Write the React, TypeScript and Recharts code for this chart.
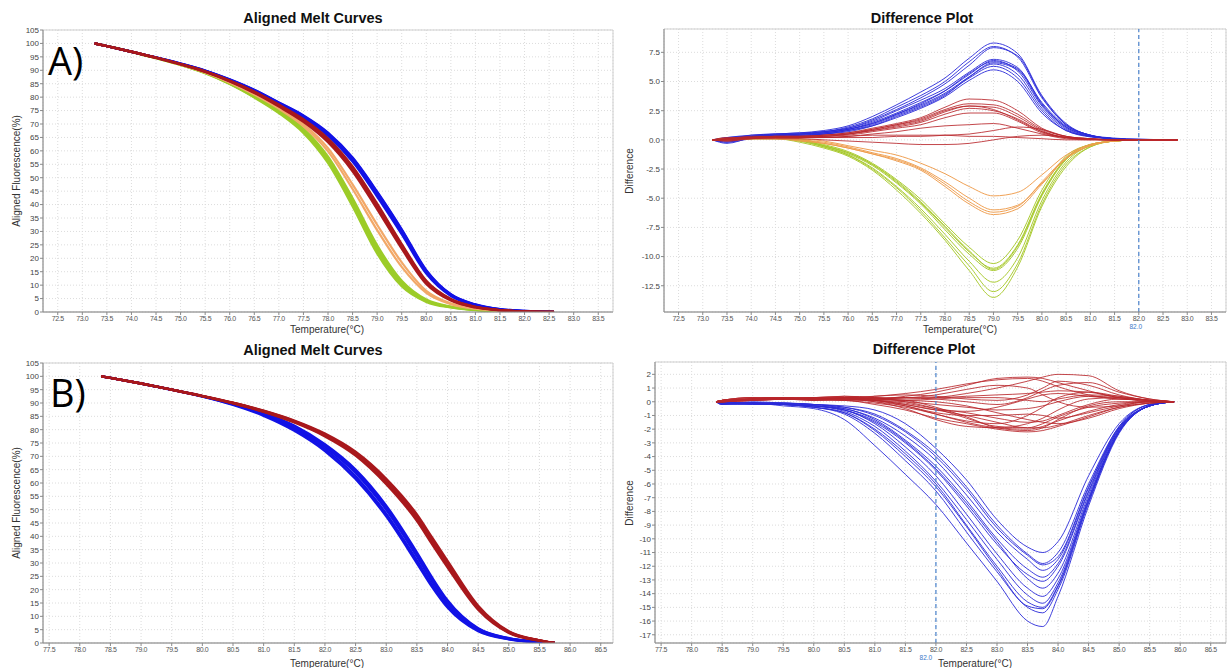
import React from 'react';
import { LineChart, Line, XAxis, YAxis, CartesianGrid, ReferenceLine, ReferenceArea } from 'recharts';

// ---------- tick labels ----------
const X_TICKS_A = [72.5, 73.0, 73.5, 74.0, 74.5, 75.0, 75.5, 76.0, 76.5, 77.0, 77.5, 78.0, 78.5, 79.0, 79.5, 80.0, 80.5, 81.0, 81.5, 82.0, 82.5, 83.0, 83.5];
const X_TICKS_B = [77.5, 78.0, 78.5, 79.0, 79.5, 80.0, 80.5, 81.0, 81.5, 82.0, 82.5, 83.0, 83.5, 84.0, 84.5, 85.0, 85.5, 86.0, 86.5];
const Y_TICKS_MELT = [0, 5, 10, 15, 20, 25, 30, 35, 40, 45, 50, 55, 60, 65, 70, 75, 80, 85, 90, 95, 100, 105];
const Y_TICKS_DIFF_A = [-12.5, -10, -7.5, -5, -2.5, 0, 2.5, 5, 7.5];
const Y_TICKS_DIFF_B = [-17, -16, -15, -14, -13, -12, -11, -10, -9, -8, -7, -6, -5, -4, -3, -2, -1, 0, 1, 2];

// ---------- A) aligned melt curves ----------
const TEMP_A_MELT = [73.25, 73.5, 74.0, 74.5, 75.0, 75.5, 76.0, 76.5, 77.0, 77.5, 78.0, 78.5, 79.0, 79.5, 80.0, 80.5, 81.0, 81.5, 82.0, 82.6];
const MELT_A_BLUE = [
  [100, 99.0, 96.9, 94.8, 92.5, 89.9, 86.6, 82.7, 78.0, 73.2, 66.8, 57.5, 44.8, 30.8, 15.6, 6.6, 2.8, 1.0, 0.4, 0],
  [100, 99.0, 96.9, 94.7, 92.4, 89.8, 86.4, 82.4, 77.7, 72.8, 66.2, 56.8, 44.0, 30.0, 15.0, 6.3, 2.6, 0.9, 0.3, 0],
  [100, 99.0, 96.9, 94.7, 92.4, 89.7, 86.3, 82.2, 77.4, 72.4, 65.6, 56.0, 43.0, 29.0, 14.3, 6.0, 2.5, 0.9, 0.3, 0],
  [100, 99.0, 96.9, 94.8, 92.5, 89.9, 86.5, 82.6, 77.9, 73.0, 66.5, 57.2, 44.5, 30.5, 15.3, 6.5, 2.7, 1.0, 0.4, 0],
];
const MELT_A_RED = [
  [100, 99.0, 96.9, 94.7, 92.3, 89.6, 86.2, 82.1, 77.2, 71.8, 64.6, 54.2, 40.3, 25.3, 11.6, 4.8, 1.9, 0.7, 0.2, 0],
  [100, 99.0, 96.9, 94.7, 92.3, 89.5, 86.0, 81.8, 76.8, 71.2, 63.8, 53.2, 39.2, 24.3, 11.0, 4.5, 1.8, 0.7, 0.2, 0],
  [100, 99.0, 96.9, 94.6, 92.2, 89.4, 85.9, 81.6, 76.5, 70.8, 63.2, 52.4, 38.3, 23.6, 10.5, 4.3, 1.7, 0.6, 0.2, 0],
  [100, 99.0, 96.9, 94.7, 92.3, 89.6, 86.1, 82.0, 77.0, 71.5, 64.2, 53.8, 39.8, 24.8, 11.3, 4.7, 1.9, 0.7, 0.2, 0],
];
const MELT_A_ORANGE = [
  [100, 99.0, 96.9, 94.6, 92.2, 89.3, 85.6, 81.3, 76.2, 70.0, 61.0, 47.5, 32.5, 18.5, 7.9, 3.2, 1.3, 0.5, 0.1, 0],
  [100, 99.0, 96.9, 94.6, 92.1, 89.2, 85.4, 81.0, 75.7, 69.2, 59.8, 45.8, 30.5, 16.8, 7.1, 2.9, 1.2, 0.5, 0.1, 0],
];
const MELT_A_GREEN = [
  [100, 99.0, 96.9, 94.6, 92.1, 89.1, 85.1, 80.4, 74.8, 67.8, 57.2, 41.5, 24.0, 11.0, 4.3, 1.9, 0.8, 0.3, 0.1, 0],
  [100, 99.0, 96.9, 94.5, 92.0, 89.0, 85.0, 80.1, 74.4, 67.2, 56.3, 40.4, 22.8, 10.2, 4.0, 1.8, 0.8, 0.3, 0.1, 0],
  [100, 99.0, 96.9, 94.5, 92.0, 88.9, 84.9, 79.9, 74.1, 66.7, 55.5, 39.4, 21.8, 9.6, 3.8, 1.7, 0.7, 0.3, 0.1, 0],
  [100, 99.0, 96.9, 94.6, 92.1, 89.1, 85.2, 80.6, 75.1, 68.3, 57.8, 42.3, 24.8, 11.6, 4.6, 2.0, 0.9, 0.3, 0.1, 0],
];

// ---------- A) difference plot ----------
const TEMP_A_DIFF = [73.2, 73.5, 74.0, 74.5, 75.0, 75.5, 76.0, 76.5, 77.0, 77.5, 78.0, 78.5, 79.0, 79.5, 80.0, 80.5, 81.0, 81.5, 82.0, 82.8];
const DIFF_A_BLUE = [
  [0, -0.2, 0.3, 0.5, 0.6, 0.8, 1.2, 2.0, 3.0, 4.1, 5.3, 7.0, 8.3, 7.4, 3.8, 1.4, 0.4, 0.15, 0.05, 0],
  [0, 0.2, 0.4, 0.5, 0.6, 0.7, 1.1, 1.8, 2.8, 3.8, 5.0, 6.7, 8.0, 7.1, 3.6, 1.3, 0.4, 0.1, 0.05, 0],
  [0, -0.1, 0.3, 0.4, 0.5, 0.7, 1.0, 1.6, 2.5, 3.4, 4.4, 5.8, 6.9, 6.2, 3.1, 1.1, 0.35, 0.1, 0, 0],
  [0, 0.1, 0.2, 0.4, 0.5, 0.6, 0.9, 1.5, 2.3, 3.2, 4.2, 5.6, 6.8, 5.9, 2.9, 1.0, 0.3, 0.1, 0, 0],
  [0, -0.3, 0.2, 0.4, 0.4, 0.6, 0.9, 1.4, 2.2, 3.0, 4.0, 5.4, 6.5, 5.6, 2.7, 0.9, 0.3, 0.1, 0, 0],
  [0, 0.2, 0.3, 0.3, 0.4, 0.5, 0.8, 1.3, 2.1, 2.9, 3.9, 5.3, 6.3, 5.3, 2.5, 0.8, 0.3, 0.1, 0, 0],
  [0, 0, 0.3, 0.4, 0.4, 0.5, 0.8, 1.2, 1.9, 2.7, 3.7, 5.1, 6.0, 5.0, 2.3, 0.8, 0.25, 0.1, 0, 0],
  [0, -0.2, 0.1, 0.3, 0.3, 0.5, 0.7, 1.2, 2.0, 2.8, 3.8, 5.4, 6.6, 6.0, 3.0, 1.1, 0.35, 0.1, 0, 0],
  [0, 0.1, 0.4, 0.5, 0.5, 0.7, 1.0, 1.7, 2.6, 3.6, 4.8, 6.4, 7.9, 7.2, 3.7, 1.3, 0.4, 0.1, 0.05, 0],
  [0, 0, 0.2, 0.4, 0.5, 0.6, 0.9, 1.4, 2.2, 3.1, 4.2, 5.7, 6.7, 6.1, 3.2, 1.2, 0.4, 0.1, 0, 0],
];
const DIFF_A_RED = [
  [0, 0.1, 0.3, 0.3, 0.3, 0.4, 0.6, 1.0, 1.4, 1.9, 2.8, 3.5, 3.4, 2.5, 1.0, 0.3, 0.1, 0, 0, 0],
  [0, -0.1, 0.2, 0.3, 0.3, 0.4, 0.5, 0.9, 1.3, 1.8, 2.6, 3.1, 3.0, 2.2, 0.9, 0.3, 0.1, 0, 0, 0],
  [0, 0.2, 0.2, 0.3, 0.3, 0.3, 0.5, 0.8, 1.2, 1.6, 2.4, 2.9, 2.8, 2.0, 0.8, 0.2, 0.1, 0, 0, 0],
  [0, 0, 0.2, 0.2, 0.2, 0.3, 0.5, 0.8, 1.1, 1.5, 2.2, 2.7, 2.5, 1.8, 0.7, 0.2, 0.05, 0, 0, 0],
  [0, -0.1, 0.1, 0.2, 0.2, 0.3, 0.4, 0.7, 1.0, 1.3, 1.9, 2.3, 2.3, 1.6, 0.6, 0.2, 0.05, 0, 0, 0],
  [0, 0.1, 0.2, 0.2, 0.2, 0.2, 0.3, 0.5, 0.7, 1.0, 1.2, 1.3, 1.4, 1.0, 0.5, 0.1, 0, 0, 0, 0],
  [0, 0, 0.1, 0.2, 0.2, 0.2, 0.2, 0.2, 0.3, 0.3, 0.4, 0.5, 0.8, 1.1, 0.9, 0.3, 0.1, 0, 0, 0],
  [0, 0.1, 0.1, 0.1, 0.1, 0.0, -0.1, -0.2, -0.3, -0.4, -0.4, -0.3, 0.0, 0.3, 0.4, 0.2, 0.05, 0, 0, 0],
  [0, 0, 0.2, 0.2, 0.2, 0.2, 0.3, 0.4, 0.4, 0.4, 0.4, 0.3, 0.3, 0.2, 0.1, 0, 0, 0, 0, 0],
  [0, 0.1, 0.2, 0.3, 0.3, 0.4, 0.6, 0.9, 1.3, 1.7, 2.5, 2.9, 2.6, 1.7, 0.7, 0.2, 0.05, 0, 0, 0],
];
const DIFF_A_ORANGE = [
  [0, 0.1, 0.2, 0.2, 0.1, -0.1, -0.5, -0.9, -1.3, -2.0, -2.9, -4.0, -4.8, -4.5, -3.0, -1.3, -0.4, -0.1, 0, 0],
  [0, 0, 0.1, 0.1, 0.0, -0.2, -0.6, -1.1, -1.6, -2.4, -3.6, -5.0, -6.0, -5.6, -3.7, -1.6, -0.5, -0.1, 0, 0],
  [0, 0.1, 0.1, 0.1, 0.0, -0.3, -0.7, -1.2, -1.8, -2.6, -4.0, -5.5, -6.4, -5.9, -3.8, -1.6, -0.5, -0.1, 0, 0],
  [0, 0, 0.1, 0.1, -0.1, -0.3, -0.7, -1.2, -1.7, -2.5, -3.8, -5.3, -6.2, -5.7, -3.6, -1.5, -0.4, -0.1, 0, 0],
];
const DIFF_A_GREEN = [
  [0, 0.1, 0.2, 0.3, 0.1, -0.4, -1.0, -2.0, -3.4, -5.1, -7.2, -9.2, -10.6, -8.6, -4.3, -1.4, -0.4, -0.1, 0, 0],
  [0, 0, 0.2, 0.2, 0.0, -0.5, -1.1, -2.1, -3.6, -5.4, -7.5, -9.6, -11.0, -9.0, -4.6, -1.6, -0.4, -0.1, 0, 0],
  [0, 0.1, 0.1, 0.2, 0.0, -0.5, -1.2, -2.2, -3.7, -5.5, -7.7, -9.8, -11.2, -9.3, -4.8, -1.7, -0.5, -0.1, 0, 0],
  [0, 0, 0.1, 0.1, -0.1, -0.6, -1.3, -2.4, -4.0, -5.9, -8.1, -10.4, -12.2, -10.1, -5.2, -1.9, -0.5, -0.1, 0, 0],
  [0, 0.1, 0.1, 0.1, -0.1, -0.6, -1.3, -2.5, -4.1, -6.1, -8.4, -10.8, -13.0, -10.6, -5.5, -2.1, -0.6, -0.1, 0, 0],
  [0, 0, 0.1, 0.1, -0.2, -0.7, -1.4, -2.6, -4.3, -6.3, -8.6, -11.2, -13.5, -10.9, -5.7, -2.3, -0.6, -0.1, 0, 0],
  [0, 0.1, 0.2, 0.2, 0.0, -0.5, -1.1, -2.1, -3.5, -5.3, -7.4, -9.5, -11.1, -9.1, -4.7, -1.6, -0.4, -0.1, 0, 0],
];

// ---------- B) aligned melt curves ----------
const TEMP_B_MELT = [78.35, 78.5, 79.0, 79.5, 80.0, 80.5, 81.0, 81.5, 82.0, 82.5, 83.0, 83.5, 83.75, 84.0, 84.5, 85.0, 85.5, 85.75];
const MELT_B_BLUE = [
  [100, 99.4, 97.3, 95.0, 92.6, 89.8, 86.3, 81.5, 74.5, 65.0, 51.5, 34.0, 24.5, 16.0, 5.5, 1.8, 0.4, 0],
  [100, 99.4, 97.3, 95.0, 92.5, 89.6, 85.9, 80.8, 73.6, 63.8, 50.0, 32.5, 23.0, 15.0, 5.0, 1.6, 0.4, 0],
  [100, 99.4, 97.3, 95.0, 92.5, 89.5, 85.6, 80.2, 72.8, 62.5, 48.5, 31.0, 21.8, 14.0, 4.7, 1.5, 0.3, 0],
  [100, 99.4, 97.3, 94.9, 92.4, 89.3, 85.2, 79.6, 72.0, 61.5, 47.5, 30.0, 21.0, 13.3, 4.4, 1.4, 0.3, 0],
  [100, 99.4, 97.3, 95.0, 92.6, 89.7, 86.1, 81.1, 74.0, 64.3, 50.8, 33.2, 23.8, 15.5, 5.3, 1.7, 0.4, 0],
];
const MELT_B_RED = [
  [100, 99.4, 97.3, 95.0, 92.6, 90.0, 87.0, 83.2, 78.2, 71.3, 61.0, 47.5, 38.8, 30.0, 13.5, 4.2, 1.0, 0],
  [100, 99.4, 97.3, 95.0, 92.6, 90.0, 86.8, 82.9, 77.8, 70.8, 60.3, 46.7, 38.0, 29.2, 13.0, 4.0, 0.9, 0],
  [100, 99.4, 97.3, 95.0, 92.6, 89.9, 86.7, 82.7, 77.5, 70.3, 59.6, 45.8, 37.0, 28.4, 12.5, 3.8, 0.9, 0],
  [100, 99.4, 97.3, 95.0, 92.7, 90.1, 87.1, 83.4, 78.5, 71.7, 61.6, 48.2, 39.5, 30.8, 14.0, 4.4, 1.0, 0],
  [100, 99.4, 97.3, 95.0, 92.6, 90.0, 86.9, 83.0, 78.0, 71.0, 60.7, 47.0, 38.3, 29.6, 13.2, 4.1, 1.0, 0],
];

// ---------- B) difference plot ----------
const TEMP_B_DIFF = [78.4, 78.5, 79.0, 79.5, 80.0, 80.5, 81.0, 81.5, 82.0, 82.5, 83.0, 83.5, 83.75, 84.0, 84.5, 85.0, 85.5, 85.9];
const DIFF_B_BLUE = [
  [0, -0.1, -0.1, -0.3, -0.5, -1.3, -3.2, -5.3, -7.5, -10.3, -13.1, -16.0, -16.4, -14.2, -7.6, -2.3, -0.3, 0],
  [0, -0.1, -0.1, -0.2, -0.4, -0.9, -2.3, -4.3, -6.5, -9.5, -12.4, -15.0, -15.4, -13.7, -7.4, -2.2, -0.3, 0],
  [0, -0.2, -0.1, -0.2, -0.4, -0.8, -2.0, -3.8, -6.0, -9.0, -12.0, -14.6, -15.0, -13.4, -7.2, -2.2, -0.3, 0],
  [0, -0.1, -0.2, -0.2, -0.3, -0.7, -1.8, -3.6, -5.8, -8.6, -11.5, -14.1, -14.7, -13.2, -7.1, -2.1, -0.3, 0],
  [0, -0.1, -0.1, -0.2, -0.3, -0.6, -1.6, -3.3, -5.4, -8.2, -11.1, -13.6, -14.2, -12.9, -7.0, -2.1, -0.3, 0],
  [0, -0.2, -0.1, -0.1, -0.3, -0.6, -1.5, -3.0, -5.0, -7.6, -10.4, -12.6, -13.1, -12.0, -6.6, -2.0, -0.3, 0],
  [0, -0.1, -0.2, -0.2, -0.3, -0.5, -1.3, -2.8, -4.7, -7.2, -10.0, -12.2, -12.8, -11.8, -6.5, -1.9, -0.3, 0],
  [0, -0.1, -0.1, -0.1, -0.2, -0.5, -1.2, -2.5, -4.3, -6.8, -9.5, -11.5, -12.3, -11.5, -6.3, -1.9, -0.3, 0],
  [0, -0.1, -0.1, -0.1, -0.2, -0.4, -1.0, -2.2, -4.0, -6.4, -9.2, -11.2, -11.9, -11.3, -6.2, -1.8, -0.2, 0],
  [0, -0.1, -0.1, -0.1, -0.2, -0.4, -0.9, -2.1, -3.8, -6.2, -9.0, -11.1, -11.8, -11.0, -6.0, -1.8, -0.2, 0],
  [0, -0.1, 0, -0.1, -0.2, -0.3, -0.6, -1.6, -3.4, -5.7, -8.6, -10.6, -11.0, -10.2, -5.4, -1.6, -0.2, 0],
  [0, -0.1, -0.1, -0.2, -0.3, -0.6, -1.4, -2.9, -4.9, -7.4, -10.2, -12.9, -13.6, -12.5, -6.8, -2.0, -0.3, 0],
  [0, -0.2, -0.1, -0.2, -0.4, -0.8, -2.1, -4.0, -6.2, -9.1, -12.2, -14.9, -15.1, -13.5, -7.3, -2.2, -0.3, 0],
];
const DIFF_B_RED = [
  [0, 0.1, 0.2, 0.3, 0.2, 0.3, 0.2, 0.4, 0.7, 1.2, 1.7, 1.8, 1.7, 1.4, 0.8, 0.3, 0.1, 0],
  [0, 0.1, 0.3, 0.2, 0.3, 0.4, 0.3, 0.2, 0.3, 0.6, 1.0, 1.5, 1.8, 2.0, 1.9, 0.8, 0.2, 0],
  [0, 0, 0.2, 0.3, 0.2, 0.2, 0.1, -0.2, -0.6, -1.0, -1.5, -1.9, -1.9, -1.7, -1.0, -0.4, -0.1, 0],
  [0, 0, 0.1, 0.2, 0.1, 0.1, -0.2, -0.6, -1.2, -1.6, -2.0, -2.2, -2.1, -1.8, -1.1, -0.4, -0.1, 0],
  [0, 0.1, 0.2, 0.3, 0.2, 0.2, 0.0, -0.5, -1.3, -1.8, -1.9, -1.6, -1.2, -0.6, 0.2, 0.3, 0.1, 0],
  [0, 0, 0.2, 0.2, 0.2, 0.3, 0.3, 0.3, 0.5, 0.9, 1.2, 1.0, 0.5, 0.0, -0.4, -0.3, 0, 0],
  [0, 0.1, 0.1, 0.2, 0.3, 0.2, 0.2, 0.1, 0.0, -0.3, -0.8, -1.3, -1.5, -1.6, -1.2, -0.5, -0.1, 0],
  [0, 0, 0.2, 0.3, 0.2, 0.3, 0.1, -0.3, -0.9, -1.4, -1.6, -1.0, -0.4, 0.3, 0.7, 0.4, 0.1, 0],
  [0, 0.1, 0.2, 0.2, 0.3, 0.2, 0.2, 0.3, 0.3, 0.4, 0.5, 0.6, 0.7, 0.8, 0.7, 0.3, 0.1, 0],
  [0, 0, 0.1, 0.2, 0.2, 0.1, 0.1, 0.0, -0.2, -0.4, -0.6, -0.5, -0.3, 0.0, 0.4, 0.3, 0, 0],
  [0, 0.1, 0.3, 0.3, 0.2, 0.3, 0.2, 0.1, -0.4, -1.1, -1.9, -2.1, -1.9, -1.3, -0.3, 0.0, 0, 0],
  [0, 0, 0.2, 0.2, 0.3, 0.2, 0.4, 0.5, 0.4, 0.2, 0.1, 0.5, 1.0, 1.5, 1.2, 0.5, 0.1, 0],
  [0, 0.1, 0.2, 0.3, 0.1, 0.2, 0.0, -0.3, -0.8, -1.0, -1.0, -0.9, -1.0, -1.2, -0.8, -0.3, 0, 0],
  [0, 0, 0.2, 0.2, 0.2, 0.3, 0.2, 0.1, 0.2, 0.3, 0.3, 0.1, 0.0, 0.2, 0.5, 0.4, 0.1, 0],
  [0, 0.1, 0.1, 0.2, 0.3, 0.2, 0.1, -0.1, -0.5, -0.8, -1.2, -1.5, -1.4, -1.0, -0.2, 0.2, 0.1, 0],
  [0, 0.1, 0.3, 0.3, 0.3, 0.4, 0.3, 0.0, -0.5, -1.2, -1.8, -1.9, -1.6, -1.1, -0.4, -0.1, 0, 0],
  [0, 0, 0.2, 0.3, 0.2, 0.3, 0.4, 0.6, 0.9, 1.3, 1.6, 1.7, 1.5, 1.1, 0.5, 0.2, 0.1, 0],
  [0, 0.1, 0.2, 0.2, 0.2, 0.1, -0.1, -0.4, -0.9, -1.5, -1.9, -2.0, -1.8, -1.4, -0.7, -0.2, 0, 0],
  [0, 0, 0.1, 0.2, 0.3, 0.3, 0.2, 0.3, 0.2, 0.0, -0.2, 0.3, 0.8, 1.2, 1.4, 0.7, 0.2, 0],
  [0, 0.1, 0.2, 0.2, 0.1, 0.2, 0.1, -0.2, -0.6, -0.7, -0.4, 0.2, 0.5, 0.6, 0.4, 0.2, 0.1, 0],
];

// ---------- styling ----------
const FONT = '"Liberation Sans", Arial, Helvetica, sans-serif';
const BLUE_MELT = '#1212e6';
const RED_MELT = '#a8181c';
const ORANGE_MELT = '#f2a868';
const GREEN_MELT = '#9ccc28';
const BLUE_DIFF = '#2a2ad8';
const RED_DIFF = '#b9272b';
const ORANGE_DIFF = '#ee9c4c';
const GREEN_DIFF = '#a6c82a';

type Group = { color: string; curves: number[][]; width: number; opacity: number };

function buildRows(temps: number[], groups: Group[]) {
  return temps.map((t, i) => {
    const row: Record<string, number> = { t };
    groups.forEach((g, gi) => g.curves.forEach((c, ci) => { row[`g${gi}c${ci}`] = c[i]; }));
    return row;
  });
}

type PanelProps = {
  left: number; top: number; width: number; height: number;
  margin: { top: number; right: number; bottom: number; left: number };
  yWidth: number;
  xDomain: [number, number]; xTicks: number[];
  yDomain: [number, number]; yTicks: number[];
  yFmt: (v: number) => string;
  temps: number[]; groups: Group[];
  refX?: number;
  refDx?: number;
};

function Panel(p: PanelProps) {
  const rows = buildRows(p.temps, p.groups);
  return (
    <div style={{ position: 'absolute', left: p.left, top: p.top }}>
      <LineChart width={p.width} height={p.height} data={rows} margin={p.margin}>
        <CartesianGrid stroke="#dcdcdc" strokeDasharray="1 2" />
        <ReferenceArea x1={p.xDomain[0]} x2={p.xDomain[1]} y1={p.yDomain[0]} y2={p.yDomain[1]} fill="none" stroke="#cfcfcf" ifOverflow="visible" />
        <XAxis
          dataKey="t" type="number" domain={p.xDomain} ticks={p.xTicks} allowDataOverflow interval={0}
          height={14} tickSize={3} tickMargin={1} stroke="#8a8a8a"
          tick={{ fontSize: 7, fill: '#555', letterSpacing: -0.4 }}
          tickFormatter={(v: number) => v.toFixed(1)}
        />
        <YAxis
          type="number" domain={p.yDomain} ticks={p.yTicks} allowDataOverflow interval={0}
          width={p.yWidth} tickSize={3} tickMargin={1} stroke="#8a8a8a"
          tick={{ fontSize: 8, fill: '#444' }}
          tickFormatter={p.yFmt}
        />
        {p.groups.map((g, gi) =>
          g.curves.map((_, ci) => (
            <Line
              key={`g${gi}c${ci}`}
              dataKey={`g${gi}c${ci}`}
              type="monotone"
              stroke={g.color}
              strokeWidth={g.width}
              strokeOpacity={g.opacity}
              dot={false}
              activeDot={false}
              isAnimationActive={false}
            />
          ))
        )}
        {p.refX !== undefined && (
          <ReferenceLine
            x={p.refX}
            stroke="#4a82cc"
            strokeDasharray="4 3"
            strokeWidth={1.2}
            label={{ value: p.refX.toFixed(1), position: 'bottom', offset: 12, dx: p.refDx ?? 0, fill: '#3a78c8', fontSize: 6.5 }}
          />
        )}
      </LineChart>
    </div>
  );
}

function Title({ cx, cy, text }: { cx: number; cy: number; text: string }) {
  return (
    <div style={{ position: 'absolute', left: cx - 150, top: cy - 9, width: 300, textAlign: 'center', fontSize: 14.5, lineHeight: '18px', fontWeight: 'bold', color: '#111' }}>
      {text}
    </div>
  );
}

function XLabel({ cx, cy, text }: { cx: number; cy: number; text: string }) {
  return (
    <div style={{ position: 'absolute', left: cx - 100, top: cy - 5, width: 200, textAlign: 'center', fontSize: 10, lineHeight: '11px', color: '#333' }}>
      {text}
    </div>
  );
}

function YLabel({ cx, cy, text }: { cx: number; cy: number; text: string }) {
  return (
    <div style={{ position: 'absolute', left: cx - 100, top: cy - 6, width: 200, textAlign: 'center', fontSize: 10, lineHeight: '12px', color: '#333', transform: 'rotate(-90deg)' }}>
      {text}
    </div>
  );
}

function BigLabel({ x, y, text }: { x: number; y: number; text: string }) {
  return (
    <div style={{ position: 'absolute', left: x, top: y, fontSize: 38, lineHeight: '40px', fontFamily: '"Open Sans", "Noto Sans", sans-serif', color: '#000' }}>
      {text}
    </div>
  );
}

const fmtInt = (v: number) => String(v);
const fmtOne = (v: number) => v.toFixed(1);

export default function App() {
  return (
    <div style={{ position: 'absolute', left: 0, top: 0, width: 1228, height: 668, background: '#fff', fontFamily: FONT, overflow: 'hidden' }}>
      <Panel
        left={0} top={0} width={620} height={335}
        margin={{ top: 30, right: 7, bottom: 9, left: 0 }} yWidth={43}
        xDomain={[72.2, 83.8]} xTicks={X_TICKS_A}
        yDomain={[0, 105]} yTicks={Y_TICKS_MELT} yFmt={fmtInt}
        temps={TEMP_A_MELT}
        groups={[
          { color: GREEN_MELT, curves: MELT_A_GREEN, width: 2.4, opacity: 1 },
          { color: ORANGE_MELT, curves: MELT_A_ORANGE, width: 2.2, opacity: 1 },
          { color: BLUE_MELT, curves: MELT_A_BLUE, width: 2.4, opacity: 1 },
          { color: RED_MELT, curves: MELT_A_RED, width: 2.4, opacity: 1 },
        ]}
      />
      <Panel
        left={620} top={0} width={608} height={335}
        margin={{ top: 29, right: 2, bottom: 9, left: 0 }} yWidth={44}
        xDomain={[72.2, 83.8]} xTicks={X_TICKS_A}
        yDomain={[-14.75, 9.5]} yTicks={Y_TICKS_DIFF_A} yFmt={fmtOne}
        temps={TEMP_A_DIFF}
        groups={[
          { color: BLUE_DIFF, curves: DIFF_A_BLUE, width: 1, opacity: 0.9 },
          { color: GREEN_DIFF, curves: DIFF_A_GREEN, width: 1, opacity: 0.95 },
          { color: ORANGE_DIFF, curves: DIFF_A_ORANGE, width: 1, opacity: 0.95 },
          { color: RED_DIFF, curves: DIFF_A_RED, width: 1, opacity: 0.85 },
        ]}
        refX={82.0}
        refDx={-3}
      />
      <Panel
        left={0} top={335} width={620} height={333}
        margin={{ top: 28, right: 7, bottom: 11, left: 0 }} yWidth={43}
        xDomain={[77.4, 86.7]} xTicks={X_TICKS_B}
        yDomain={[0, 105]} yTicks={Y_TICKS_MELT} yFmt={fmtInt}
        temps={TEMP_B_MELT}
        groups={[
          { color: BLUE_MELT, curves: MELT_B_BLUE, width: 2.4, opacity: 1 },
          { color: RED_MELT, curves: MELT_B_RED, width: 2.4, opacity: 1 },
        ]}
      />
      <Panel
        left={620} top={335} width={608} height={333}
        margin={{ top: 27, right: 2, bottom: 11, left: 0 }} yWidth={35}
        xDomain={[77.4, 86.75]} xTicks={X_TICKS_B}
        yDomain={[-17.6, 2.9]} yTicks={Y_TICKS_DIFF_B} yFmt={fmtInt}
        temps={TEMP_B_DIFF}
        groups={[
          { color: BLUE_DIFF, curves: DIFF_B_BLUE, width: 1, opacity: 0.9 },
          { color: RED_DIFF, curves: DIFF_B_RED, width: 1, opacity: 0.85 },
        ]}
        refX={82.0}
        refDx={-10}
      />

      <Title cx={313} cy={18} text="Aligned Melt Curves" />
      <Title cx={922} cy={18} text="Difference Plot" />
      <Title cx={313} cy={350} text="Aligned Melt Curves" />
      <Title cx={924} cy={349} text="Difference Plot" />

      <XLabel cx={327} cy={329} text="Temperature(°C)" />
      <XLabel cx={960} cy={329} text="Temperature(°C)" />
      <XLabel cx={327} cy={663} text="Temperature(°C)" />
      <XLabel cx={975} cy={663} text="Temperature(°C)" />

      <YLabel cx={17} cy={171} text="Aligned Fluorescence(%)" />
      <YLabel cx={630} cy={171} text="Difference" />
      <YLabel cx={17} cy={503} text="Aligned Fluorescence(%)" />
      <YLabel cx={630} cy={503} text="Difference" />

      <BigLabel x={48} y={40} text="A)" />
      <BigLabel x={50} y={372} text="B)" />
    </div>
  );
}
